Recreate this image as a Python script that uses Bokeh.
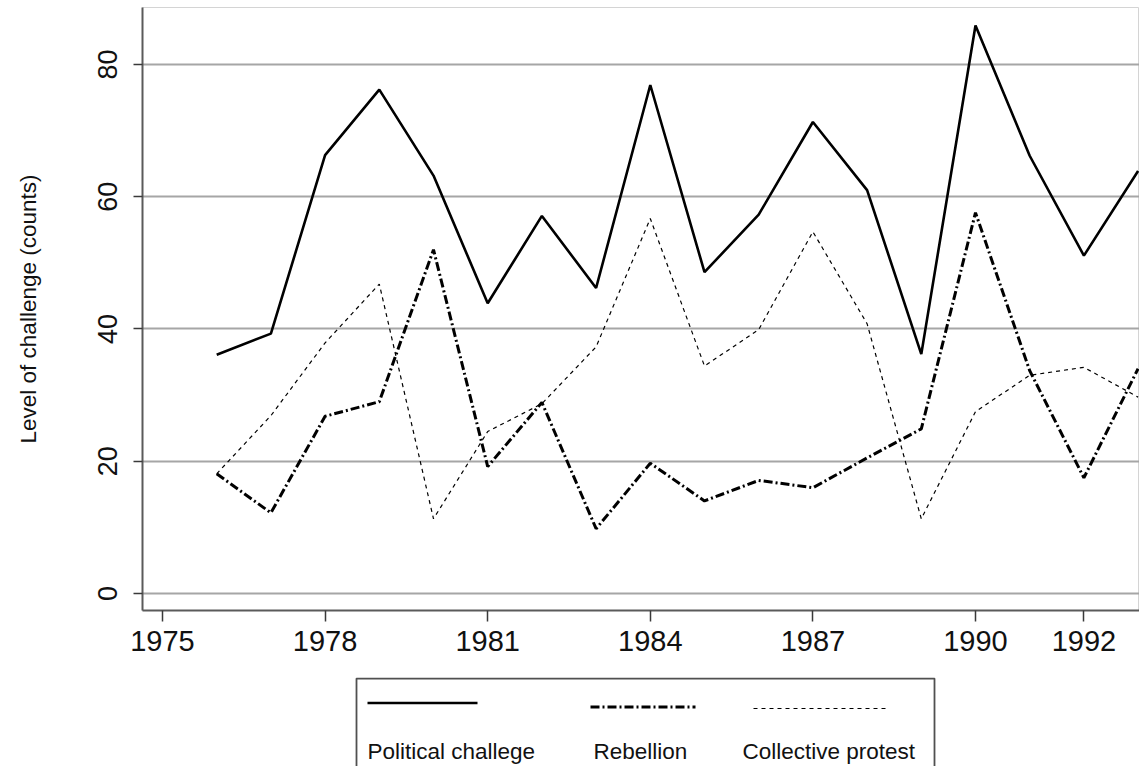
from bokeh.plotting import figure
from bokeh.layouts import column
from bokeh.models import FixedTicker, Range1d
from bokeh.core.properties import value
from bokeh.embed import file_html
from bokeh.resources import INLINE

# ---- data ----
years = list(range(1976, 1994))
political = [36.1, 39.3, 66.3, 76.2, 63.2, 43.9, 57.1, 46.2, 76.9,
             48.6, 57.3, 71.3, 61.0, 36.2, 85.9, 66.2, 51.1, 63.9]
rebellion = [18.1, 12.2, 26.8, 29.0, 52.0, 19.2, 28.9, 9.8, 19.7,
             14.0, 17.1, 16.0, 20.5, 24.9, 57.6, 33.7, 17.5, 34.0]
collective = [18.1, 26.9, 37.9, 46.8, 11.3, 24.5, 28.7, 37.3, 56.7,
              34.4, 39.9, 54.7, 40.8, 11.3, 27.5, 33.0, 34.2, 29.7]
series_names = ["Political challege", "Rebellion", "Collective protest"]
x_ticks = [1975, 1978, 1981, 1984, 1987, 1990, 1992]
y_ticks = [0, 20, 40, 60, 80]
y_title = "Level of challenge (counts)"

# ---- styles ----
FONT = "'Liberation Sans', Arial, Helvetica, sans-serif"
TEXT = "#111111"
series_styles = [
    dict(line_color="black", line_width=2.6, line_dash="solid"),
    dict(line_color="black", line_width=3.0, line_dash="9 3 2 3"),
    dict(line_color="black", line_width=1.2, line_dash="4 4"),
]

W, H_MAIN, H_LEG = 1139, 677, 89
LEFT = 142

# ---- main chart ----
p = figure(width=W, height=H_MAIN, output_backend="svg", toolbar_location=None,
           x_range=Range1d(1974.631, 1993.026), y_range=Range1d(-2.571, 88.62),
           min_border_left=LEFT, min_border_right=0, min_border_top=7,
           min_border_bottom=67)
p.background_fill_color = "white"
p.border_fill_color = "white"
p.outline_line_color = "#d4d4d4"
p.outline_line_width = 1

for vals, st in zip([political, rebellion, collective], series_styles):
    p.line(years, vals, **st)

for ax in (p.xaxis[0], p.yaxis[0]):
    ax.axis_line_color = "#5a5a5a"
    ax.axis_line_width = 2
    ax.major_tick_line_color = "#3a3a3a"
    ax.major_tick_line_width = 1.5
    ax.major_tick_in = 0
    ax.minor_tick_line_color = None
    ax.major_label_text_font = FONT
    ax.major_label_text_color = TEXT

p.xaxis.ticker = FixedTicker(ticks=x_ticks)
p.yaxis.ticker = FixedTicker(ticks=y_ticks)
p.xaxis.major_tick_out = 11
p.xaxis.major_label_standoff = 9
p.xaxis.major_label_text_font_size = "29px"
p.yaxis.major_tick_out = 9
p.yaxis.major_label_standoff = 16
p.yaxis.major_label_text_font_size = "27px"
p.yaxis.major_label_orientation = "vertical"
p.yaxis.axis_label = y_title
p.yaxis.axis_label_text_font = FONT
p.yaxis.axis_label_text_font_size = "22.5px"
p.yaxis.axis_label_text_font_style = "normal"
p.yaxis.axis_label_text_color = TEXT
p.yaxis.axis_label_standoff = 55

p.xgrid.visible = False
p.ygrid.grid_line_color = "#a6a6a6"
p.ygrid.grid_line_width = 2

# ---- legend panel (key line above each label, Stata style) ----
# positions are in page pixels; the legend panel's frame starts at x = LEFT
leg_box = dict(left=356, right=934, top=1.0, bottom=120)
leg_line_x0 = [367, 590, 753]
leg_line_x1 = [477, 695, 887]
leg_line_y = [25.5, 29.5, 31.0]
leg_text_x = [367, 593, 742]
leg_text_y = 74

q = figure(width=W, height=H_LEG, output_backend="svg", toolbar_location=None,
           x_range=Range1d(LEFT, W), y_range=Range1d(H_LEG, 0),
           x_axis_location=None, y_axis_location=None,
           min_border_left=LEFT, min_border_right=0, min_border_top=0,
           min_border_bottom=0)
q.grid.visible = False
q.outline_line_color = None
q.background_fill_color = "white"
q.border_fill_color = "white"

q.quad(left=[leg_box["left"]], right=[leg_box["right"]], top=[leg_box["top"]],
       bottom=[leg_box["bottom"]], fill_color=None, line_color="#505050",
       line_width=1.8)
for i, st in enumerate(series_styles):
    q.segment(x0=[leg_line_x0[i]], y0=[leg_line_y[i]], x1=[leg_line_x1[i]],
              y1=[leg_line_y[i]], **st)
q.text(x=leg_text_x, y=[leg_text_y] * len(series_names), text=series_names,
       text_font=value(FONT), text_font_size="22.5px", text_color=TEXT,
       text_baseline="alphabetic", text_align="left")

layout = column(p, q, spacing=0)
open("out.html", "w").write(file_html(layout, INLINE))
